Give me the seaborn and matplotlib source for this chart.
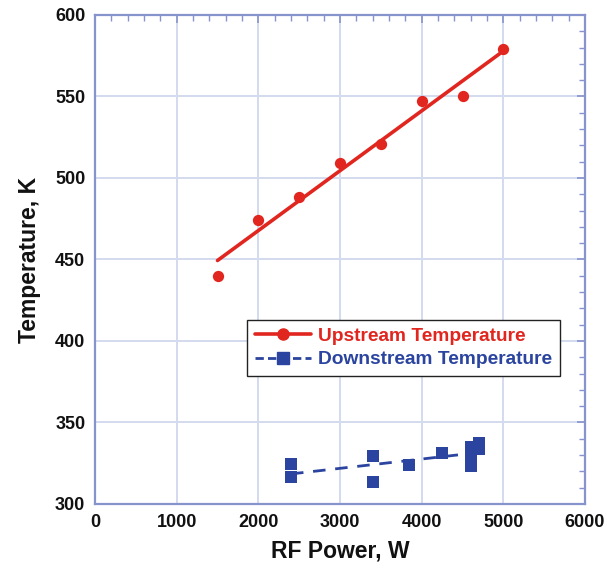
import numpy as np
import pandas as pd
import matplotlib
matplotlib.use("Agg")
import matplotlib.pyplot as plt
from matplotlib.lines import Line2D
from matplotlib.ticker import MultipleLocator
import seaborn as sns

# ---- data ----
up_power = [1500, 2000, 2500, 3000, 3500, 4000, 4500, 5000]
up_temp = [440, 474, 488.5, 509, 521, 547.5, 550, 579]

down_power = [2400, 2400, 3400, 3400, 3850, 4250, 4600, 4600, 4600, 4700, 4700]
down_temp = [324.4, 316.5, 329.5, 313.4, 323.8, 331, 335, 329, 323, 337.5, 334]

x_ticks = [0, 1000, 2000, 3000, 4000, 5000, 6000]
y_ticks = [300, 350, 400, 450, 500, 550, 600]

up_label = "Upstream Temperature"
down_label = "Downstream Temperature"
x_label = "RF Power, W"
y_label = "Temperature, K"

RED = "#e0261f"
BLUE = "#2a449f"
SPINE = "#8793cc"
GRID = "#d4dbef"

sns.set_style("white")
plt.rcParams["font.family"] = ["Liberation Sans", "DejaVu Sans"]

up_df = pd.DataFrame({"power": up_power, "temp": up_temp})
down_df = pd.DataFrame({"power": down_power, "temp": down_temp})

fig = plt.figure(figsize=(6.07, 5.70), dpi=100)
ax = fig.add_axes([0.1565, 0.1158, 0.8073, 0.858])

sns.regplot(data=up_df, x="power", y="temp", ax=ax, ci=None, marker="o",
            color=RED, scatter_kws={"s": 66, "alpha": 1, "linewidths": 0, "zorder": 4},
            line_kws={"lw": 2.6, "zorder": 3})
sns.regplot(data=down_df, x="power", y="temp", ax=ax, ci=None, marker="s",
            color=BLUE, scatter_kws={"s": 66, "alpha": 1, "linewidths": 0, "zorder": 4},
            line_kws={"lw": 2.0, "ls": (0, (4.5, 3.5)), "zorder": 3})

ax.set_xlim(0, 6000)
ax.set_ylim(300, 600)
ax.set_xticks(x_ticks)
ax.set_yticks(y_ticks)
ax.xaxis.set_minor_locator(MultipleLocator(200))
ax.yaxis.set_minor_locator(MultipleLocator(10))
ax.grid(True, which="major", color=GRID, lw=1.4, zorder=0)
ax.set_axisbelow(True)
for s in ax.spines.values():
    s.set_color(SPINE)
    s.set_linewidth(1.6)
ax.tick_params(which="both", direction="in", top=True, right=True, color=SPINE,
               labelsize=13, labelcolor="#111111")
ax.tick_params(which="major", length=6, width=1.2, pad=7)
ax.tick_params(which="minor", length=4, width=1.0)
for lab in ax.get_xticklabels() + ax.get_yticklabels():
    lab.set_fontweight("bold")

ax.set_xlabel(x_label, fontsize=16.5, fontweight="bold", color="#111111", labelpad=6)
ax.set_ylabel(y_label, fontsize=16.5, fontweight="bold", color="#111111", labelpad=10)

handles = [
    Line2D([], [], color=RED, lw=2.6, marker="o", markersize=8),
    Line2D([], [], color=BLUE, lw=2.0, ls=(0, (3, 1.5)), marker="s", markersize=8),
]
leg = ax.legend(handles, [up_label, down_label], loc="upper right",
                bbox_to_anchor=(0.949, 0.376), borderaxespad=0,
                prop={"family": "Liberation Sans", "weight": "bold", "size": 13.8},
                frameon=True, fancybox=False, edgecolor="#222222", framealpha=1,
                handlelength=2.9, handletextpad=0.4, labelspacing=0.3,
                borderpad=0.4)
leg.get_frame().set_linewidth(1.0)
leg.texts[0].set_color(RED)
leg.texts[1].set_color(BLUE)

fig.savefig("out.png", dpi=100)
